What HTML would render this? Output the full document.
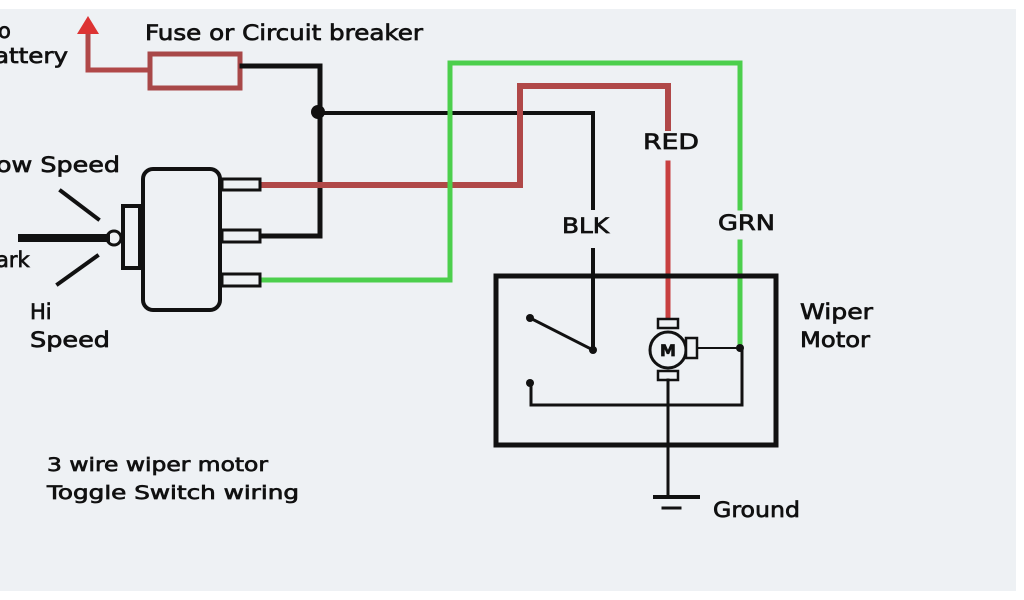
<!DOCTYPE html>
<html><head><meta charset="utf-8"><style>
html,body{margin:0;padding:0;background:#fff}
svg{display:block}
text{font-family:"DejaVu Sans","Liberation Sans",sans-serif;fill:#111;stroke:#111;stroke-width:0.7}
</style></head><body>
<svg width="1024" height="600" viewBox="0 0 1024 600">
<rect x="0" y="9" width="1016" height="582" fill="#eef1f4"/>
<g fill="none" stroke-linecap="square">
<polyline points="88,28 88,70 148,70" stroke="#b04848" stroke-width="5"/>
<polygon points="88,16 77,34 99,34" fill="#d33" stroke="none"/>
<rect x="150" y="54" width="90" height="34" stroke="#a84848" stroke-width="5"/>
<polyline points="242,66 320,66 320,236 262,236" stroke="#111" stroke-width="5"/>
<polyline points="320,113 593,113 593,208" stroke="#111" stroke-width="4"/>
<line x1="593" y1="250" x2="593" y2="350" stroke="#111" stroke-width="4"/>
<circle cx="318" cy="112" r="7" fill="#111" stroke="none"/>
<polyline points="262,185 520,185 520,86 668,86 668,128" stroke="#b04848" stroke-width="6"/>
<line x1="668" y1="163" x2="668" y2="318" stroke="#c84040" stroke-width="5"/>
<polyline points="262,280 450,280 450,63 740,63 740,208" stroke="#4ccf4c" stroke-width="5"/>
<line x1="740" y1="242" x2="740" y2="348" stroke="#4ccf4c" stroke-width="5"/>
<rect x="143" y="169" width="77" height="141" rx="10" stroke="#111" stroke-width="4"/>
<rect x="123" y="206" width="17" height="62" stroke="#111" stroke-width="4"/>
<rect x="222" y="179" width="38" height="11" stroke="#111" stroke-width="3"/>
<rect x="222" y="230" width="38" height="12" stroke="#111" stroke-width="3"/>
<rect x="222" y="274" width="38" height="12" stroke="#111" stroke-width="3"/>
<circle cx="114" cy="238" r="7" stroke="#111" stroke-width="3"/>
<line x1="22" y1="238" x2="106" y2="238" stroke="#111" stroke-width="8"/>
<line x1="61" y1="191" x2="98" y2="219" stroke="#111" stroke-width="4"/>
<line x1="58" y1="284" x2="97" y2="256" stroke="#111" stroke-width="4"/>
<rect x="496" y="276" width="280" height="169" stroke="#111" stroke-width="5"/>
<line x1="530" y1="318" x2="593" y2="350" stroke="#111" stroke-width="3"/>
<circle cx="530" cy="318" r="4" fill="#111"/>
<circle cx="593" cy="350" r="4" fill="#111"/>
<circle cx="530" cy="383" r="4" fill="#111"/>
<polyline points="531,383 531,405 742,405 742,348" stroke="#111" stroke-width="3"/>
<circle cx="668" cy="350" r="18" stroke="#111" stroke-width="3" fill="#eef1f4"/>
<rect x="658" y="319" width="20" height="9" stroke="#111" stroke-width="2.5" fill="#eef1f4"/>
<rect x="658" y="371" width="20" height="9" stroke="#111" stroke-width="2.5" fill="#eef1f4"/>
<rect x="686" y="338" width="11" height="20" stroke="#111" stroke-width="2.5" fill="#eef1f4"/>
<line x1="697" y1="348" x2="740" y2="348" stroke="#111" stroke-width="2"/>
<circle cx="740" cy="348" r="4" fill="#111"/>
<line x1="668" y1="380" x2="668" y2="497" stroke="#111" stroke-width="3"/>
<line x1="655" y1="497" x2="698" y2="497" stroke="#111" stroke-width="4"/>
<line x1="663" y1="508" x2="680" y2="508" stroke="#111" stroke-width="3"/>
</g>
<text x="668" y="356" font-size="16" text-anchor="middle" font-weight="bold">M</text>
<g font-size="21" lengthAdjust="spacingAndGlyphs">
<text x="-2" y="38">o</text>
<text x="-6" y="63" textLength="74" lengthAdjust="spacingAndGlyphs">attery</text>
<text x="145" y="40" textLength="278" lengthAdjust="spacingAndGlyphs">Fuse or Circuit breaker</text>
<text x="-4" y="172" textLength="124" lengthAdjust="spacingAndGlyphs">ow Speed</text>
<text x="-4" y="267">ark</text>
<text x="30" y="319">Hi</text>
<text x="30" y="347" textLength="80" lengthAdjust="spacingAndGlyphs">Speed</text>
<text x="643" y="149" textLength="56" lengthAdjust="spacingAndGlyphs">RED</text>
<text x="562" y="233" textLength="47" lengthAdjust="spacingAndGlyphs">BLK</text>
<text x="718" y="230" textLength="57" lengthAdjust="spacingAndGlyphs">GRN</text>
<text x="800" y="319" textLength="73" lengthAdjust="spacingAndGlyphs">Wiper</text>
<text x="800" y="347" textLength="70" lengthAdjust="spacingAndGlyphs">Motor</text>
<text x="713" y="517" textLength="87" lengthAdjust="spacingAndGlyphs">Ground</text>
<text x="47" y="471" font-size="19" textLength="221" lengthAdjust="spacingAndGlyphs">3 wire wiper motor</text>
<text x="47" y="499" font-size="19" textLength="252" lengthAdjust="spacingAndGlyphs">Toggle Switch wiring</text>
</g>
</svg>
</body></html>
